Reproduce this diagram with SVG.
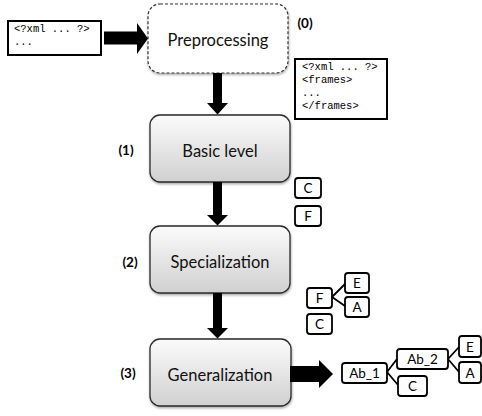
<svg xmlns="http://www.w3.org/2000/svg" width="482" height="416" viewBox="0 0 482 416">
  <defs>
    <linearGradient id="stageFill" x1="0" y1="0" x2="0" y2="1">
      <stop offset="0" stop-color="#fbfbfb"/>
      <stop offset="1" stop-color="#d0d0d0"/>
    </linearGradient>
    <filter id="soft" x="-10%" y="-10%" width="125%" height="130%">
      <feDropShadow dx="0.5" dy="1.5" stdDeviation="1.2" flood-color="#000" flood-opacity="0.35"/>
    </filter>
  </defs>
  <style>
    .stage { fill: url(#stageFill); stroke: #2a2a2a; stroke-width: 1.3; filter: url(#soft); }
    .pre { fill: #ffffff; stroke: #333; stroke-width: 1.2; stroke-dasharray: 3 2; filter: url(#soft); }
    .doc { fill: #ffffff; stroke: #000; stroke-width: 2; }
    .tok { fill: #ffffff; stroke: #000; stroke-width: 1.8; }
    .mono { font-family: "Liberation Mono", monospace; font-size: 10.5px; fill: #000; }
    .label { font-family: Lato, "Open Sans", sans-serif; font-size: 16.5px; fill: #111; text-anchor: middle; }
    .step { font-family: Lato, "Open Sans", sans-serif; font-size: 13.5px; font-weight: bold; fill: #000; text-anchor: middle; }
    .sym { font-family: Lato, "Open Sans", sans-serif; font-size: 13.5px; fill: #000; text-anchor: middle; }
    .arrow { fill: #000; }
    .link { stroke: #000; stroke-width: 1.8; fill: none; }
  </style>

  <!-- raw XML input -->
  <g id="input-xml">
    <rect class="doc" x="8" y="21" width="93" height="34"/>
    <text class="mono" x="14" y="31.5">&lt;?xml ... ?&gt;</text>
    <text class="mono" x="14" y="45">...</text>
  </g>

  <!-- stage 0 -->
  <g id="preprocessing">
    <rect class="pre" x="148" y="4" width="140" height="69" rx="12"/>
    <text class="label" x="218" y="45.5">Preprocessing</text>
  </g>
  <text class="step" x="305" y="28">(0)</text>

  <!-- framed XML output -->
  <g id="frames-xml">
    <rect class="doc" x="295" y="59" width="92" height="60"/>
    <text class="mono" x="302" y="69.5">&lt;?xml ... ?&gt;</text>
    <text class="mono" x="302" y="83">&lt;frames&gt;</text>
    <text class="mono" x="302" y="96">...</text>
    <text class="mono" x="302" y="108.5">&lt;/frames&gt;</text>
  </g>

  <!-- stage 1 -->
  <g id="basic-level">
    <rect class="stage" x="150" y="115" width="140" height="67" rx="10"/>
    <text class="label" x="220" y="156.5">Basic level</text>
  </g>
  <text class="step" x="126" y="155">(1)</text>
  <g id="basic-C">
    <rect class="tok" x="295" y="178" width="26" height="20" rx="3"/>
    <text class="sym" x="308" y="193">C</text>
  </g>
  <g id="basic-F">
    <rect class="tok" x="295" y="206" width="26" height="20" rx="3"/>
    <text class="sym" x="308" y="221">F</text>
  </g>

  <!-- stage 2 -->
  <g id="specialization">
    <rect class="stage" x="150" y="226" width="140" height="67" rx="10"/>
    <text class="label" x="220" y="267.5">Specialization</text>
  </g>
  <text class="step" x="130" y="267">(2)</text>
  <g id="spec-F">
    <rect class="tok" x="307" y="288" width="25" height="20" rx="3"/>
    <text class="sym" x="319.5" y="303">F</text>
  </g>
  <g id="spec-E">
    <rect class="tok" x="345" y="273" width="24" height="20" rx="3"/>
    <text class="sym" x="357" y="288">E</text>
  </g>
  <g id="spec-A">
    <rect class="tok" x="345" y="297" width="24" height="20" rx="3"/>
    <text class="sym" x="357" y="312">A</text>
  </g>
  <g id="spec-C">
    <rect class="tok" x="307" y="314" width="25" height="20" rx="3"/>
    <text class="sym" x="319.5" y="329">C</text>
  </g>

  <!-- stage 3 -->
  <g id="generalization">
    <rect class="stage" x="150" y="339" width="141" height="67" rx="10"/>
    <text class="label" x="220" y="380.5">Generalization</text>
  </g>
  <text class="step" x="128" y="378">(3)</text>
  <g id="gen-Ab_1">
    <rect class="tok" x="342" y="363" width="45" height="20" rx="3"/>
    <text class="sym" x="364.5" y="378">Ab_1</text>
  </g>
  <g id="gen-Ab_2">
    <rect class="tok" x="397" y="349" width="51" height="20" rx="3"/>
    <text class="sym" x="422.5" y="364">Ab_2</text>
  </g>
  <g id="gen-C">
    <rect class="tok" x="398" y="376" width="29" height="20" rx="3"/>
    <text class="sym" x="412.5" y="391">C</text>
  </g>
  <g id="gen-E">
    <rect class="tok" x="459" y="336" width="22" height="21" rx="3"/>
    <text class="sym" x="470" y="351.5">E</text>
  </g>
  <g id="gen-A">
    <rect class="tok" x="459" y="362" width="22" height="21" rx="3"/>
    <text class="sym" x="470" y="377.5">A</text>
  </g>

  <!-- connectors -->
  <g id="connectors">
    <!-- block arrows between stages -->
    <rect class="arrow" x="104" y="31.5" width="34" height="13"/>
    <polygon class="arrow" points="137,23 137,54 148,38.5"/>
    <rect class="arrow" x="213" y="73" width="9" height="31"/>
    <polygon class="arrow" points="207,103 228,103 217.5,114.5"/>
    <rect class="arrow" x="213" y="182" width="9" height="34"/>
    <polygon class="arrow" points="207,215 228,215 217.5,225.5"/>
    <rect class="arrow" x="213" y="293" width="9" height="36"/>
    <polygon class="arrow" points="207,328 228,328 217.5,338.5"/>
    <rect class="arrow" x="290" y="366" width="30" height="16"/>
    <polygon class="arrow" points="319,360 319,388 333,374"/>
    <!-- tree edges -->
    <path class="link" d="M332,297 L345,284 M332,297 L345,306"/>
    <path class="link" d="M387,372 L397,359 M387,372 L398,385"/>
    <path class="link" d="M448,359 L459,347 M448,359 L459,372"/>
  </g>
</svg>
